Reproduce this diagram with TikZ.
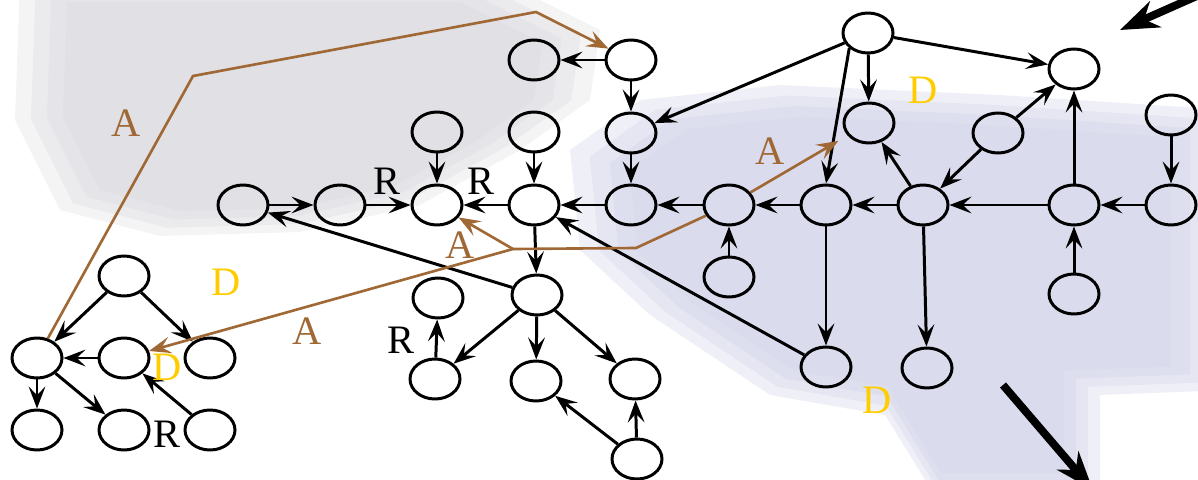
\documentclass[tikz,border=0pt]{standalone}
\usepackage{fontspec}
\setmainfont{Liberation Serif}
\usetikzlibrary{arrows.meta,shapes.geometric}

\definecolor{arcbrown}{RGB}{160,104,52}
\definecolor{dgold}{RGB}{255,204,0}
\definecolor{bggray}{RGB}{214,214,220}
\definecolor{bglav}{RGB}{210,211,232}

\begin{document}
\begin{tikzpicture}[x=0.02cm, y=-0.02cm,
  vert/.style={draw, ellipse, line width=1.7pt, minimum width=1.0cm, minimum height=0.8cm, inner sep=0pt},
  link/.style={-{Stealth[length=12.5pt, width=9.5pt, inset=5pt]}, line width=1.7pt},
  alink/.style={arcbrown, line width=1.5pt},
  lab/.style={font=\fontsize{23}{26}\selectfont, inner sep=0pt},
  bigarrow/.style={-{Stealth[length=22pt, width=16pt, inset=7pt]}, line width=4.5pt}]
\useasboundingbox (0,0) rectangle (1198,480);

% Background patches, stacked for soft edges
\foreach \k in {1.0,0.94,0.88,0.82} {
  \fill[bggray, fill opacity=0.28, scale around={\k:(280,100)}]
    (20,-20) -- (500,-20) -- (600,30) -- (590,100) -- (520,150) -- (420,205) -- (300,232) -- (160,236) -- (60,210) -- (15,120) -- cycle;
  \fill[bglav, fill opacity=0.35, scale around={\k:(900,260)}]
    (570,150) -- (640,100) -- (780,85) -- (1000,95) -- (1230,110) -- (1230,390) -- (1100,395) -- (1100,520) -- (950,520) -- (885,415) -- (770,395) -- (650,315) -- (580,250) -- cycle;
}

% Main row
\foreach \x [count=\i] in {243,340,437,534,631,729,826,923,1074,1171}
  \node[vert] (m\i) at (\x,205) {};

% Upper part
\node[vert] (t1) at (534,60) {};
\node[vert] (t2) at (631,60) {};
\node[vert] (h) at (868,33) {};
\node[vert] (rr) at (1074,69) {};
\node[vert] (a) at (437,132) {};
\node[vert] (b) at (534,132) {};
\node[vert] (c) at (631,133) {};
\node[vert] (n1) at (869,123) {};
\node[vert] (n2) at (998,133) {};
\node[vert] (n3) at (1171,115) {};

% Lower part
\node[vert] (p) at (729,277) {};
\node[vert] (q) at (1074,294) {};
\node[vert] (s) at (537,295) {};
\node[vert] (u) at (438,298) {};
\node[vert] (v1) at (435,379) {};
\node[vert] (v2) at (536,381) {};
\node[vert] (v3) at (635,379) {};
\node[vert] (w) at (637,459) {};
\node[vert] (x1) at (826,367) {};
\node[vert] (x2) at (927,368) {};

% Small tree on the left
\node[vert] (l0) at (124,276) {};
\foreach \x [count=\i] in {37,124,210} {
  \node[vert] (l\i) at (\x,358) {};
}
\foreach \x [count=\i from 4] in {37,124,210} {
  \node[vert] (l\i) at (\x,430) {};
}

% Black arcs
\foreach \u/\v in {t2/t1, t2/c, h/c, h/n1, h/rr, n2/rr, n2/m8, m8/n1, m9/rr, n3/m10,
    m10/m9, q/m9, m9/m8, m8/m7, m7/m6, m6/m5, p/m6, m5/m4, c/m5, m4/m3, b/m4, a/m3,
    m2/m3, m1/m2, s/m1, m4/s, x1/m4, m7/x1, m8/x2, s/v1, s/v2, s/v3, v1/u, w/v2, w/v3,
    l0/l1, l0/l3, l2/l1, l1/l4, l1/l5, l6/l2}
  \draw[link] (\u) -- (\v);
\draw[link] (h.south west) -- (m7.north);

% Brown arcs
\coordinate (bendA) at (193,76);
\coordinate (bendB) at (536,12);
\coordinate (kink) at (636,248);
\coordinate (fork) at (513,249);
\draw[link, alink] (l1) -- (bendA) -- (bendB) -- (t2);
\draw[alink] (m6) -- (kink) -- (fork);
\draw[link, alink] (fork) -- (m3);
\draw[link, alink] (fork) -- (l2);
\draw[link, alink, shorten >=6pt] (m6) -- (n1);

% Labels
\node[lab, arcbrown] (A1) at (126,123) {A};
\node[lab, arcbrown] (A2) at (770,151) {A};
\node[lab, arcbrown] (A3) at (460,245) {A};
\node[lab, arcbrown] (A4) at (307,331) {A};
\node[lab, dgold] (D1) at (923,90) {D};
\node[lab, dgold] (D2) at (226,282) {D};
\node[lab, dgold] (D3) at (167,367) {D};
\node[lab, dgold] (D4) at (877,400) {D};
\node[lab] (R1) at (387,181) {R};
\node[lab] (R2) at (481,181) {R};
\node[lab] (R3) at (401,340) {R};
\node[lab] (R4) at (167,434) {R};

% Heavy arrows at the edge
\draw[bigarrow] (1215,-12) -- (1120,30);
\draw[bigarrow] (1003,385) -- (1093,490);

\end{tikzpicture}
\end{document}
